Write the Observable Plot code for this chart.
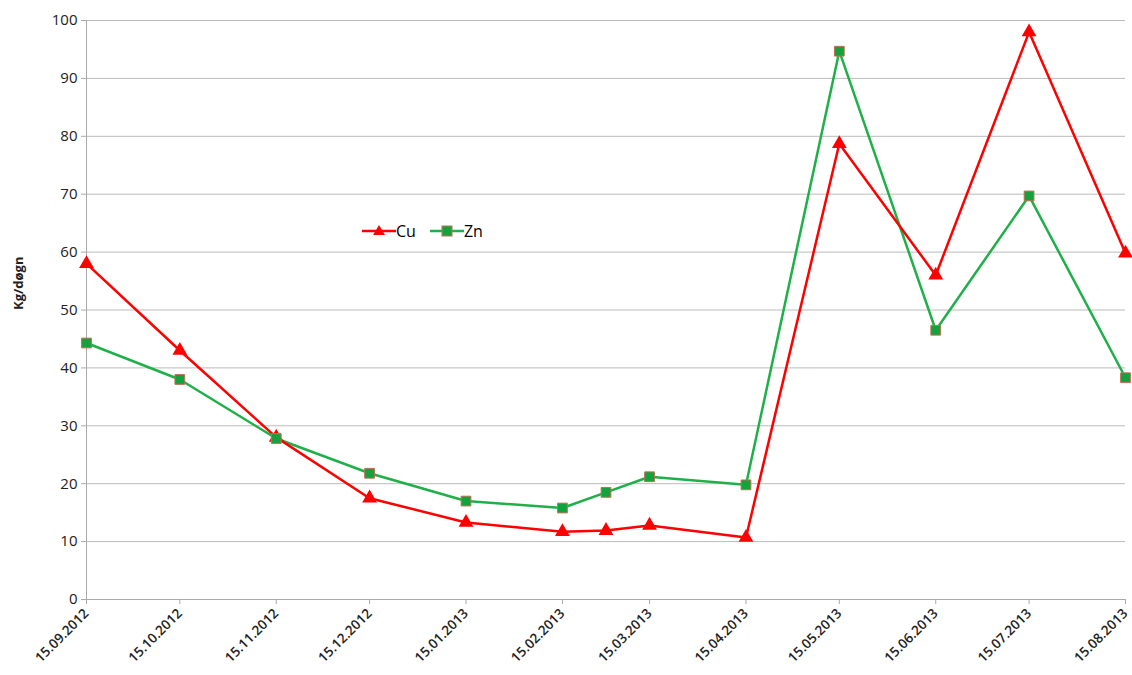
<!DOCTYPE html>
<html><head><meta charset="utf-8">
<script src="https://cdn.jsdelivr.net/npm/d3@7"></script>
<script src="https://cdn.jsdelivr.net/npm/@observablehq/plot@0.6"></script>
<style>
body{margin:0;background:#fff;font-family:"Open Sans",sans-serif}
#wrap{position:relative;width:1132px;height:675px}
#legend{position:absolute;left:362px;top:220px;font-size:16px;display:flex;gap:14px;align-items:center}
#legend span{display:flex;align-items:center}
</style></head><body>
<div id="wrap"><div id="chart"></div>
<div id="legend">
<span><svg width="34" height="14"><line x1="0" y1="7" x2="34" y2="7" stroke="#ff0000" stroke-width="2.5"/><path d="M17,1 L23,11 L11,11 Z" fill="#ff0000"/></svg>Cu</span>
<span><svg width="34" height="14"><line x1="0" y1="7" x2="34" y2="7" stroke="#1fb04a" stroke-width="2.5"/><rect x="12" y="2" width="10" height="10" fill="#12a23e" stroke="#c07050"/></svg>Zn</span>
</div></div>
<script>
const dates = ["2012-09-15","2012-10-15","2012-11-15","2012-12-15","2013-01-15","2013-02-15","2013-03-01","2013-03-15","2013-04-15","2013-05-15","2013-06-15","2013-07-15","2013-08-15"];
const cu = [58, 43, 28, 17.5, 13.3, 11.7, 11.9, 12.8, 10.7, 78.7, 56, 98, 59.8];
const zn = [44.3, 38, 27.8, 21.8, 17, 15.8, 18.5, 21.2, 19.8, 94.7, 46.5, 69.7, 38.3];
const tickDates = ["2012-09-15","2012-10-15","2012-11-15","2012-12-15","2013-01-15","2013-02-15","2013-03-15","2013-04-15","2013-05-15","2013-06-15","2013-07-15","2013-08-15"];

const parse = d3.utcParse("%Y-%m-%d");
const rowsCu = dates.map((d, i) => ({date: parse(d), v: cu[i]}));
const rowsZn = dates.map((d, i) => ({date: parse(d), v: zn[i]}));
const fmt = d3.utcFormat("%d.%m.%Y");

const chart = Plot.plot({
  width: 1132, height: 675,
  marginLeft: 86, marginRight: 7, marginTop: 20, marginBottom: 76,
  style: {fontFamily: "Open Sans", fontSize: "12px", color: "#222"},
  x: {type: "utc", domain: [parse(dates[0]), parse(dates[dates.length-1])]},
  y: {domain: [0, 100]},
  marks: [
    Plot.gridY(d3.range(10, 101, 10), {stroke: "#bbb", strokeOpacity: 1}),
    Plot.ruleY([0], {stroke: "#aaa"}),
    Plot.ruleX([parse(dates[0])], {stroke: "#aaa"}),
    Plot.axisY({ticks: d3.range(0, 101, 10), tickSize: 5, tickPadding: 4, fontSize: 15, label: null, stroke: "#aaa"}),
    Plot.axisX({ticks: tickDates.map(parse), tickFormat: fmt, tickRotate: -45, tickSize: 5, fontSize: 13.5, fontWeight: 600, label: null, stroke: "#aaa", textStroke: "none"}),
    Plot.text(["Kg/døgn"], {frameAnchor: "left", dx: -68, rotate: -90, fontWeight: "bold", fontSize: 13}),
    Plot.line(rowsZn, {x: "date", y: "v", stroke: "#1fb04a", strokeWidth: 2.5}),
    Plot.line(rowsCu, {x: "date", y: "v", stroke: "#ff0000", strokeWidth: 2.5}),
    Plot.dot(rowsCu, {x: "date", y: "v", symbol: "triangle", r: 5.5, fill: "#ff0000", stroke: "none"}),
    Plot.dot(rowsZn, {x: "date", y: "v", symbol: "square", r: 5.5, fill: "#12a23e", stroke: "#c07050", strokeWidth: 1})
  ]
});
document.getElementById("chart").append(chart);
</script></body></html>
